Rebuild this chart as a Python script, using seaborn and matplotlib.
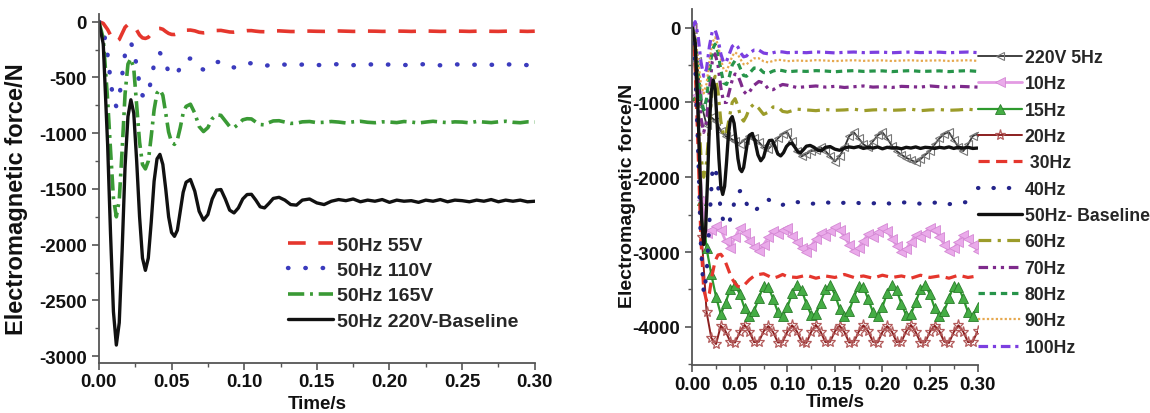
import matplotlib
matplotlib.use("Agg")
import matplotlib.pyplot as plt
from matplotlib.ticker import MultipleLocator, FormatStrFormatter
import seaborn as sns

# ---------------- Left panel data (50 Hz, different voltages) ----------------
T_LEFT = [0, 0.003, 0.006, 0.008, 0.010, 0.012, 0.014, 0.016, 0.018, 0.020,
          0.022, 0.024, 0.026, 0.028, 0.030, 0.032, 0.034, 0.036, 0.038, 0.040,
          0.042, 0.044, 0.046, 0.048, 0.050, 0.052, 0.054, 0.056, 0.058, 0.060,
          0.063, 0.066, 0.069, 0.072, 0.075, 0.078, 0.081, 0.084, 0.087, 0.090,
          0.093, 0.096, 0.099, 0.102, 0.105, 0.108, 0.111, 0.114, 0.117, 0.120,
          0.124, 0.128, 0.132, 0.136, 0.140,
          0.145, 0.150, 0.155, 0.160, 0.165, 0.170, 0.175, 0.180, 0.185, 0.190,
          0.195, 0.200, 0.205, 0.210, 0.215, 0.220, 0.225, 0.230, 0.235, 0.240,
          0.245, 0.250, 0.255, 0.260, 0.265, 0.270, 0.275, 0.280, 0.285, 0.290,
          0.295, 0.300]

F_55V = [0, -15, -70, -120, -165, -180, -160, -105, -50, -25,
         -20, -35, -75, -120, -145, -150, -140, -110, -78, -62,
         -60, -68, -88, -105, -114, -115, -108, -92, -80, -76,
         -75, -82, -95, -100, -96, -86, -79, -78, -85, -92,
         -94, -90, -84, -80, -80, -85, -89, -90, -87, -83,
         -82, -85, -88, -88, -85,
         -84, -86, -87, -85, -83, -85, -87, -86, -84, -85,
         -87, -86, -84, -85, -87, -85, -83, -85, -87, -86,
         -84, -85, -87, -85, -84, -86, -87, -85, -83, -85,
         -87, -85]

F_110V = [0, -60, -300, -520, -710, -760, -680, -480, -290, -200,
          -190, -250, -400, -560, -660, -680, -640, -520, -380, -300,
          -280, -310, -380, -450, -478, -480, -460, -410, -360, -335,
          -330, -370, -415, -430, -415, -380, -362, -360, -385, -405,
          -410, -400, -380, -372, -373, -385, -395, -397, -390, -380,
          -378, -385, -392, -390, -384,
          -382, -388, -390, -385, -380, -386, -390, -384, -380, -387,
          -390, -383, -381, -388, -390, -384, -380, -386, -391, -385,
          -381, -387, -390, -384, -380, -386, -390, -385, -381, -387,
          -389, -384]

F_165V = [0, -150, -700, -1150, -1580, -1750, -1600, -1150, -650, -380,
          -330, -420, -750, -1080, -1280, -1320, -1250, -1030, -790, -640,
          -610, -660, -820, -990, -1080, -1100, -1060, -950, -820, -760,
          -740, -820, -940, -985, -950, -870, -835, -840, -890, -940,
          -950, -920, -880, -870, -872, -900, -922, -925, -905, -890,
          -888, -900, -912, -910, -898,
          -895, -905, -902, -895, -900, -908, -898, -893, -902, -906,
          -898, -900, -905, -895, -900, -908, -900, -893, -900, -905,
          -898, -900, -907, -895, -900, -905, -898, -893, -902, -906,
          -898, -900]

F_220V = [0, -200, -1100, -1900, -2600, -2900, -2700, -2050, -1300, -850,
          -700, -820, -1250, -1750, -2120, -2230, -2120, -1800, -1430, -1230,
          -1190, -1280, -1500, -1750, -1890, -1925, -1870, -1700, -1530, -1440,
          -1415, -1520, -1700, -1780, -1730, -1590, -1510, -1505, -1590, -1690,
          -1715, -1670, -1590, -1550, -1548, -1600, -1660, -1670, -1630, -1585,
          -1575, -1600, -1640, -1645, -1600,
          -1590, -1625, -1640, -1610, -1595, -1605, -1590, -1615, -1600, -1610,
          -1595, -1620, -1600, -1610, -1605, -1620, -1600, -1610, -1595, -1615,
          -1600, -1605, -1615, -1600, -1610, -1595, -1615, -1600, -1610, -1600,
          -1615, -1610]

LEFT_LABELS = ["50Hz 55V", "50Hz 110V", "50Hz 165V", "50Hz 220V-Baseline"]

# ---------------- Right panel data (220 V, different frequencies) ----------------
T_RIGHT = [0, 0.003, 0.006, 0.009, 0.012, 0.015, 0.018, 0.021, 0.024, 0.027,
           0.030, 0.033, 0.036, 0.039, 0.042, 0.045, 0.048, 0.051, 0.054, 0.057,
           0.060,
           0.065, 0.070, 0.075, 0.080, 0.085, 0.090, 0.095, 0.100,
           0.110, 0.120, 0.130, 0.140, 0.150, 0.160, 0.170, 0.180, 0.190, 0.200,
           0.210, 0.220, 0.230, 0.240, 0.250, 0.260, 0.270, 0.280, 0.290, 0.300]

F_30HZ = [0, -500, -1600, -2800, -3500, -3650, -3550, -3300, -3120, -3040,
          -3030, -3080, -3170, -3270, -3360, -3420, -3460, -3470, -3450, -3410,
          -3370,
          -3320, -3300, -3290, -3320, -3350, -3330, -3300, -3330,
          -3340, -3310, -3350, -3320, -3340, -3300, -3340, -3320, -3350, -3310,
          -3340, -3320, -3350, -3310, -3340, -3320, -3350, -3310, -3340, -3320]

F_40HZ = [0, -500, -1600, -2900, -3550, -3300, -2600, -1950, -1850, -2100,
          -2450, -2600, -2650, -2600, -2450, -2300, -2200, -2180, -2250, -2350,
          -2430,
          -2460, -2400, -2330, -2300, -2330, -2370, -2370, -2340,
          -2330, -2360, -2350, -2330, -2360, -2340, -2330, -2360, -2350, -2330,
          -2360, -2340, -2330, -2355, -2350, -2330, -2360, -2345, -2330, -2355]

F_60HZ = [0, -300, -1000, -1700, -2000, -1800, -1300, -800, -650, -850,
          -1250, -1450, -1400, -1200, -1000, -950, -1050, -1200, -1250, -1180,
          -1080,
          -1020, -1080, -1160, -1130, -1060, -1060, -1120, -1130,
          -1090, -1100, -1110, -1095, -1105, -1100, -1090, -1110, -1100, -1095,
          -1105, -1100, -1090, -1110, -1100, -1095, -1105, -1100, -1090, -1105]

F_70HZ = [0, -200, -700, -1200, -1400, -1250, -850, -450, -350, -500,
          -800, -1000, -1000, -850, -700, -620, -640, -740, -850, -890,
          -860,
          -770, -720, -740, -820, -830, -790, -760, -770,
          -800, -790, -780, -795, -785, -800, -790, -780, -795, -790,
          -800, -785, -790, -795, -780, -790, -800, -785, -790, -795]

F_80HZ = [0, -150, -550, -950, -1100, -950, -600, -300, -220, -330,
          -560, -740, -760, -650, -500, -440, -470, -560, -640, -650,
          -610,
          -540, -540, -600, -610, -580, -565, -575, -590,
          -580, -585, -575, -580, -590, -580, -575, -585, -580, -578,
          -588, -580, -575, -585, -582, -578, -588, -580, -575, -585]

F_90HZ = [0, -100, -420, -750, -880, -750, -450, -200, -130, -230,
          -420, -560, -580, -490, -380, -330, -360, -430, -490, -490,
          -460,
          -410, -410, -450, -465, -445, -430, -435, -448,
          -440, -445, -435, -440, -448, -440, -436, -444, -440, -438,
          -446, -440, -436, -444, -440, -438, -446, -440, -436, -444]

F_100HZ = [0, 80, -100, -450, -650, -550, -250, -50, -30, -150,
           -350, -470, -450, -350, -250, -220, -260, -340, -390, -380,
           -340,
           -300, -300, -340, -350, -335, -320, -325, -335,
           -330, -335, -325, -330, -338, -330, -326, -334, -330, -328,
           -336, -330, -326, -334, -330, -328, -336, -330, -326, -334]

T_MARK = [0.000, 0.005, 0.010, 0.015, 0.020, 0.025, 0.030, 0.035, 0.040, 0.045,
          0.050, 0.055, 0.060, 0.065, 0.070, 0.075, 0.080, 0.085, 0.090, 0.095,
          0.100, 0.105, 0.110, 0.115, 0.120, 0.125, 0.130, 0.135, 0.140, 0.145,
          0.150, 0.155, 0.160, 0.165, 0.170, 0.175, 0.180, 0.185, 0.190, 0.195,
          0.200, 0.205, 0.210, 0.215, 0.220, 0.225, 0.230, 0.235, 0.240, 0.245,
          0.250, 0.255, 0.260, 0.265, 0.270, 0.275, 0.280, 0.285, 0.290, 0.295,
          0.300]

F_5HZ = [0, -450, -1050, -1300, -1200, -1250, -1380, -1450, -1480, -1520,
         -1550, -1500, -1450, -1480, -1530, -1600, -1620, -1560, -1480, -1420,
         -1400, -1520, -1650, -1720, -1690, -1650, -1640, -1600, -1650, -1720,
         -1790, -1720, -1600, -1450, -1400, -1480, -1560, -1600, -1520, -1440,
         -1400, -1480, -1580, -1650, -1700, -1740, -1770, -1800, -1760, -1700,
         -1650, -1560, -1480, -1420, -1400, -1500, -1600, -1650, -1560, -1450,
         -1420]

F_10HZ = [0, -900, -2300, -2750, -2700, -2650, -2700, -2850, -2950, -2800,
          -2680, -2750, -2850, -2930, -2990, -2900, -2800, -2720, -2760, -2700,
          -2680, -2780, -2870, -2950, -3000, -2920, -2820, -2750, -2790, -2720,
          -2670, -2700, -2800, -2900, -2990, -2940, -2850, -2760, -2800, -2730,
          -2680, -2720, -2820, -2920, -3000, -2960, -2860, -2770, -2800, -2740,
          -2680, -2700, -2800, -2900, -2990, -2950, -2860, -2770, -2820, -2900,
          -2980]

F_15HZ = [0, -900, -2300, -2950, -3300, -3600, -3833, -3675,
          -3497, -3444, -3562, -3751, -3858, -3793, -3610, -3459, -3467, -3625,
          -3803, -3856, -3738, -3549, -3442, -3507, -3690, -3841, -3833, -3675,
          -3500, -3440, -3570, -3755, -3860, -3790, -3600, -3455, -3470, -3630,
          -3800, -3860, -3735, -3545, -3445, -3510, -3695, -3845, -3830, -3670,
          -3495, -3445, -3565, -3750, -3855, -3795, -3610, -3460, -3465, -3620,
          -3805, -3850, -3740]

F_20HZ = [0, -1000, -2800, -3800, -4150, -4230,
          -3985, -4060, -4200, -4210, -4070,
          -3975, -4065, -4205, -4200, -4060,
          -3990, -4070, -4210, -4205, -4065,
          -3980, -4060, -4200, -4215, -4070,
          -3975, -4065, -4205, -4200, -4060,
          -3985, -4070, -4210, -4205, -4065,
          -3980, -4060, -4200, -4210, -4070,
          -3990, -4065, -4205, -4200, -4060,
          -3975, -4070, -4210, -4205, -4065,
          -3985, -4060, -4200, -4215, -4070,
          -3980, -4065, -4205, -4200, -4060]

RIGHT_LABELS = ["220V 5Hz", "10Hz", "15Hz", "20Hz", " 30Hz", "40Hz",
                "50Hz- Baseline", "60Hz", "70Hz", "80Hz", "90Hz", "100Hz"]

X_TICKS = [0.00, 0.05, 0.10, 0.15, 0.20, 0.25, 0.30]
XLABEL = "Time/s"
YLABEL = "Electromagnetic force/N"

# ---------------- style ----------------
sns.set_theme(style="ticks")
plt.rcParams['font.family'] = ['Liberation Sans', 'DejaVu Sans']
plt.rcParams['font.weight'] = 'bold'
plt.rcParams['axes.labelweight'] = 'bold'
plt.rcParams['axes.unicode_minus'] = False
plt.rcParams['lines.dash_capstyle'] = 'butt'
plt.rcParams['legend.numpoints'] = 1

SPINE = '#555555'

fig = plt.figure(figsize=(11.5, 4.14), dpi=100)
ax1 = fig.add_axes([0.086, 0.121, 0.379, 0.843])
ax2 = fig.add_axes([0.602, 0.116, 0.248, 0.860])


def style_axis(ax, ylim, ymaj, ymin, ylab_fs, tick_fs, xpad, xlabpad):
    ax.set_xlim(0, 0.30)
    ax.set_ylim(*ylim)
    ax.set_xticks(X_TICKS)
    ax.xaxis.set_minor_locator(MultipleLocator(0.025))
    ax.xaxis.set_major_formatter(FormatStrFormatter('%.2f'))
    ax.yaxis.set_major_locator(MultipleLocator(ymaj))
    ax.yaxis.set_minor_locator(MultipleLocator(ymin))
    ax.yaxis.set_major_formatter(FormatStrFormatter('%d'))
    for s in ['top', 'right']:
        ax.spines[s].set_visible(False)
    for s in ['left', 'bottom']:
        ax.spines[s].set_linewidth(1.3)
        ax.spines[s].set_color(SPINE)
    ax.tick_params(which='major', direction='out', length=5, width=1.2,
                   color=SPINE, labelsize=tick_fs, labelcolor='#111111')
    ax.tick_params(axis='x', which='major', pad=xpad)
    ax.tick_params(which='minor', direction='out', length=3, width=1.0, color=SPINE)
    for lab in ax.get_xticklabels() + ax.get_yticklabels():
        lab.set_fontweight('bold')
    ax.set_ylabel(YLABEL, fontsize=ylab_fs, fontweight='bold', color='#111111')
    ax.set_xlabel(XLABEL, fontsize=13.5, fontweight='bold', labelpad=xlabpad, color='#111111')


def draw(ax, x, y, **kw):
    sns.lineplot(x=x, y=y, ax=ax, errorbar=None, sort=False, **kw)
    return ax.lines[-1]


# ---------------- left panel ----------------
h_left = [
    draw(ax1, T_LEFT, F_55V, color='#e5362d', lw=2.6, linestyle=(0, (4.9, 3.5))),
    draw(ax1, T_LEFT, F_110V, color='#3b3bbd', lw=3.2, linestyle=(0, (0.1, 3.8)),
         dash_capstyle='round'),
    draw(ax1, T_LEFT, F_165V, color='#3a9a35', lw=2.6, linestyle=(0, (4.5, 1.6, 0.8, 1.6))),
    draw(ax1, T_LEFT, F_220V, color='#111111', lw=2.4),
]
style_axis(ax1, (-3060, 70), 500, 250, 17, 13.5, 2, 4)
ax1.yaxis.set_label_coords(-0.163, 0.473)
ax1.legend(h_left, LEFT_LABELS, loc='upper left',
           bbox_to_anchor=(288 / 1150, 1 - 237 / 414), bbox_transform=fig.transFigure,
           frameon=False, handlelength=2.3, handletextpad=0.2,
           labelspacing=0.40, borderpad=0, borderaxespad=0,
           prop={'weight': 'bold', 'size': 14})

# ---------------- right panel ----------------
h20 = draw(ax2, T_MARK, F_20HZ, color='#8b1f1f', lw=1.4, marker='*', markersize=8,
           markerfacecolor='none', markeredgecolor='#b35c5c', markeredgewidth=0.9)
h15 = draw(ax2, T_MARK, F_15HZ, color='#2e9a2e', lw=1.6, marker='^', markersize=7,
           markerfacecolor='#45ad45', markeredgecolor='#2a7d2a', markeredgewidth=0.6)
h10 = draw(ax2, T_MARK, F_10HZ, color='#e39be3', lw=2.0, marker='<', markersize=7,
           markerfacecolor='#eaaaea', markeredgecolor='#d488d4', markeredgewidth=0.6)
h5 = draw(ax2, T_MARK, F_5HZ, color='#333333', lw=1.3, marker='<', markersize=6,
          markerfacecolor='none', markeredgecolor='#777777', markeredgewidth=0.8)
h30 = draw(ax2, T_RIGHT, F_30HZ, color='#e5362d', lw=2.3, linestyle=(0, (3.5, 2.0)))
h40 = draw(ax2, T_RIGHT, F_40HZ, color='#24248a', lw=3.0, linestyle=(0, (0.1, 3.6)),
           dash_capstyle='round')
h60 = draw(ax2, T_RIGHT, F_60HZ, color='#9c9c2a', lw=2.3, linestyle=(0, (4, 2, 1, 2)))
h70 = draw(ax2, T_RIGHT, F_70HZ, color='#7e2a8c', lw=2.3, linestyle=(0, (3, 1.5, 1, 1.5, 1, 1.5)))
h80 = draw(ax2, T_RIGHT, F_80HZ, color='#27944a', lw=2.3, linestyle=(0, (2, 1.5)))
h90 = draw(ax2, T_RIGHT, F_90HZ, color='#e6a84e', lw=1.6, linestyle=(0, (1, 1)))
h100 = draw(ax2, T_RIGHT, F_100HZ, color='#7c3fe0', lw=2.3, linestyle=(0, (3, 1.5, 1, 1.5)))
h50 = draw(ax2, T_LEFT, F_220V, color='#111111', lw=2.4)

style_axis(ax2, (-4510, 250), 1000, 500, 14, 13.5, 3, 0)
ax2.yaxis.set_label_coords(-0.196, 0.478)
ax2.legend([h5, h10, h15, h20, h30, h40, h50, h60, h70, h80, h90, h100], RIGHT_LABELS,
           loc='upper left', bbox_to_anchor=(978 / 1150, 1 - 50 / 414),
           bbox_transform=fig.transFigure, frameon=False,
           handlelength=2.5, handletextpad=0.15, labelspacing=0.53,
           borderpad=0, borderaxespad=0, numpoints=1,
           prop={'weight': 'bold', 'size': 12.7})

fig.savefig('out.png', dpi=100, facecolor='white')
